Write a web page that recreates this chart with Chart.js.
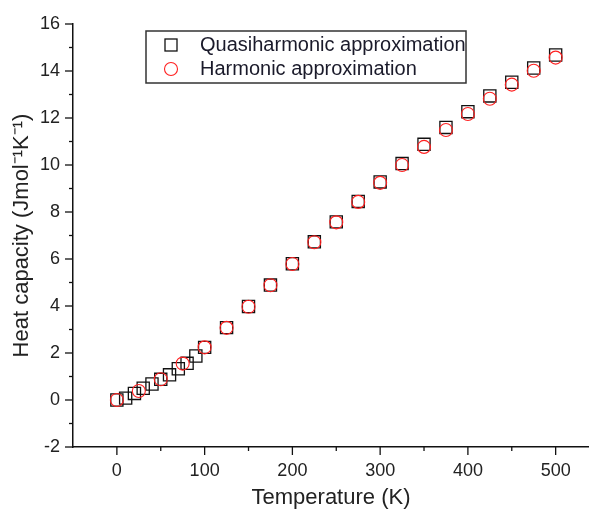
<!DOCTYPE html>
<html>
<head>
<meta charset="utf-8">
<script src="https://cdn.jsdelivr.net/npm/chart.js@4/dist/chart.umd.min.js"></script>
<style>
  html, body { margin: 0; padding: 0; background: #fff; overflow: hidden; }
  canvas { display: block; }
</style>
</head>
<body>
<canvas id="heatChart" width="589" height="511"></canvas>
<script>
// Data
const quasiTemps = [0, 10, 20, 30, 40, 50, 60, 70, 80, 90, 100, 125, 150, 175, 200, 225, 250, 275, 300, 325, 350, 375, 400, 425, 450, 475, 500];
const quasiHeat = [0, 0.08, 0.28, 0.5, 0.68, 0.88, 1.07, 1.33, 1.56, 1.87, 2.24, 3.08, 3.98, 4.89, 5.8, 6.73, 7.58, 8.45, 9.28, 10.06, 10.88, 11.6, 12.27, 12.94, 13.52, 14.13, 14.68];
const harmTemps = [0, 25, 50, 75, 100, 125, 150, 175, 200, 225, 250, 275, 300, 325, 350, 375, 400, 425, 450, 475, 500];
const harmHeat = [0, 0.38, 0.88, 1.55, 2.24, 3.07, 3.97, 4.88, 5.79, 6.71, 7.56, 8.43, 9.24, 10.0, 10.77, 11.49, 12.17, 12.82, 13.42, 14.01, 14.57];
const seriesNames = ['Quasiharmonic approximation', 'Harmonic approximation'];

const FONT = "'Liberation Sans', Arial, sans-serif";

function toPoints(xs, ys) {
    return xs.map((x, i) => ({ x: x, y: ys[i] }));
}

// ticks every `step` from the axis minimum, never past the maximum
function stepTicks(scale, step) {
    const out = [];
    for (let v = scale.min; v <= scale.max + 1e-9; v += step) out.push({ value: v });
    scale.ticks = out;
}

// Outward tick marks, long for labelled values, short for the rest
const tickMarks = {
    id: 'tickMarks',
    afterDraw(chart) {
        const ctx = chart.ctx;
        const xs = chart.scales.x, ys = chart.scales.y;
        ctx.save();
        ctx.strokeStyle = '#111';
        ctx.lineWidth = 1.3;
        xs.ticks.forEach(t => {
            if (t.value < 0) return;
            const px = xs.getPixelForValue(t.value);
            const len = t.value % 100 === 0 ? 8 : 4;
            ctx.beginPath();
            ctx.moveTo(px, xs.top);
            ctx.lineTo(px, xs.top + len);
            ctx.stroke();
        });
        ys.ticks.forEach(t => {
            const py = ys.getPixelForValue(t.value);
            const len = t.value % 2 === 0 ? 8 : 4;
            ctx.beginPath();
            ctx.moveTo(ys.right, py);
            ctx.lineTo(ys.right - len, py);
            ctx.stroke();
        });
        ctx.restore();
    }
};

// Boxed legend inside the plot, like the original
const boxLegend = {
    id: 'boxLegend',
    afterDraw(chart) {
        const ctx = chart.ctx;
        ctx.save();
        ctx.strokeStyle = '#333';
        ctx.lineWidth = 1.5;
        ctx.strokeRect(146, 31, 320, 52);

        ctx.lineWidth = 1.3;
        ctx.strokeStyle = '#111';
        ctx.strokeRect(165, 39, 12, 12);
        ctx.strokeStyle = '#ff2020';
        ctx.lineWidth = 1.1;
        ctx.beginPath();
        ctx.arc(171, 69, 6.5, 0, Math.PI * 2);
        ctx.stroke();

        ctx.fillStyle = '#1a1a2a';
        ctx.font = '20px ' + FONT;
        ctx.textBaseline = 'middle';
        ctx.fillText(seriesNames[0], 200, 45);
        ctx.fillText(seriesNames[1], 200, 69);
        ctx.restore();
    }
};

new Chart(document.getElementById('heatChart'), {
    type: 'scatter',
    data: {
        datasets: [
            {
                label: seriesNames[0],
                data: toPoints(quasiTemps, quasiHeat),
                pointStyle: 'rect',
                pointRadius: 8.6,
                pointBorderWidth: 1.3,
                borderColor: '#111',
                backgroundColor: 'rgba(0,0,0,0)',
                order: 1
            },
            {
                label: seriesNames[1],
                data: toPoints(harmTemps, harmHeat),
                pointStyle: 'circle',
                pointRadius: 6.5,
                pointBorderWidth: 1.1,
                borderColor: '#ff2020',
                backgroundColor: 'rgba(0,0,0,0)',
                order: 0
            }
        ]
    },
    options: {
        responsive: false,
        animation: false,
        layout: { autoPadding: false, padding: { top: 24, right: 0, left: 0, bottom: 0 } },
        plugins: {
            legend: { display: false },
            tooltip: { enabled: false }
        },
        scales: {
            x: {
                type: 'linear',
                min: -50,
                max: 538,
                afterBuildTicks: s => stepTicks(s, 50),
                afterFit: s => { s.height = 64; s.paddingLeft = 0; s.paddingRight = 0; },
                grid: { drawOnChartArea: false, drawTicks: false },
                border: { color: '#111', width: 1.5 },
                ticks: {
                    padding: 13,
                    color: '#222',
                    font: { family: FONT, size: 18 },
                    maxRotation: 0,
                    autoSkip: false,
                    callback: v => (v >= 0 && v % 100 === 0) ? v : ''
                },
                title: {
                    display: true,
                    text: 'Temperature (K)',
                    color: '#222',
                    font: { family: FONT, size: 22 },
                    padding: { top: 0, bottom: 0 }
                }
            },
            y: {
                type: 'linear',
                min: -2,
                max: 16,
                afterBuildTicks: s => stepTicks(s, 1),
                afterFit: s => { s.width = 73; },
                grid: { drawOnChartArea: false, drawTicks: false },
                border: { color: '#111', width: 1.5 },
                ticks: {
                    padding: 13,
                    color: '#222',
                    font: { family: FONT, size: 18 },
                    autoSkip: false,
                    callback: v => v % 2 === 0 ? v : ''
                },
                title: {
                    display: true,
                    text: 'Heat capacity (Jmol⁻¹K⁻¹)',
                    color: '#222',
                    font: { family: FONT, size: 22 },
                    padding: { top: 9, bottom: 0 }
                }
            }
        }
    },
    plugins: [tickMarks, boxLegend]
});
</script>
</body>
</html>
